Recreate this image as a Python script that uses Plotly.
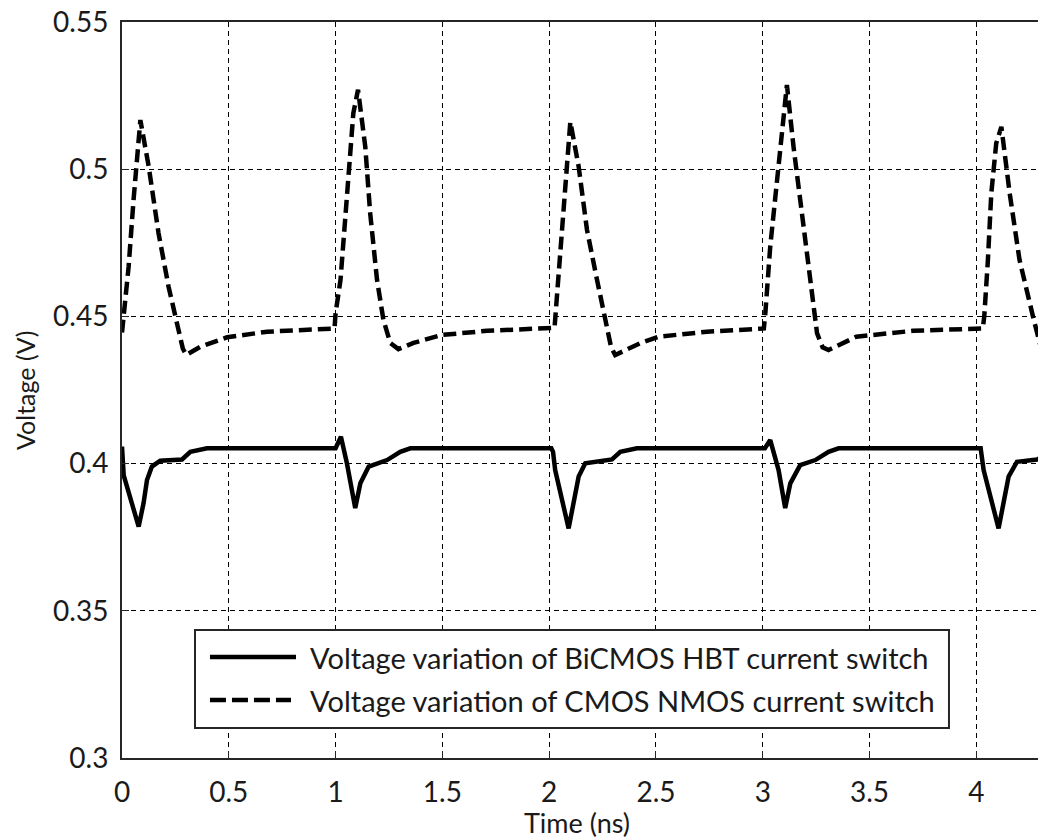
import plotly.graph_objects as go

# series names (legend text)
series_names = [
    'Voltage variation of BiCMOS HBT current switch',
    'Voltage variation of CMOS NMOS current switch',
]

# BiCMOS HBT current switch, time in ns / voltage in V
hbt_t = [0.000, 0.008, 0.078, 0.101, 0.117, 0.140, 0.179, 0.257, 0.281, 0.320, 0.398, 1.000,
         1.025, 1.053, 1.092, 1.116, 1.155, 1.241, 1.303, 1.350, 2.010,
         2.018, 2.028, 2.091, 2.114, 2.138, 2.169, 2.271, 2.294, 2.333, 2.411, 3.010,
         3.035, 3.074, 3.105, 3.129, 3.175, 3.246, 3.308, 3.355, 4.020,
         4.034, 4.104, 4.127, 4.151, 4.190, 4.284, 4.326]
hbt_v = [0.4058, 0.3960, 0.3786, 0.3866, 0.3944, 0.3990, 0.4010, 0.4012, 0.4014, 0.4040, 0.4052, 0.4052,
         0.4091, 0.4001, 0.3849, 0.3933, 0.3990, 0.4012, 0.4040, 0.4052, 0.4052,
         0.4040, 0.3978, 0.3780, 0.3866, 0.3956, 0.4001, 0.4012, 0.4014, 0.4040, 0.4052, 0.4052,
         0.4080, 0.3978, 0.3849, 0.3933, 0.3995, 0.4012, 0.4040, 0.4052, 0.4052,
         0.3978, 0.3780, 0.3866, 0.3956, 0.4006, 0.4014, 0.4028]

# CMOS NMOS current switch
nmos_t = [0.000, 0.031, 0.054, 0.070, 0.086, 0.125, 0.171, 0.218, 0.265, 0.285, 0.301, 0.367, 0.492, 0.679, 0.995,
          1.000, 1.023, 1.046, 1.061, 1.083, 1.105, 1.139, 1.162, 1.194, 1.224, 1.256, 1.294, 1.365, 1.498, 1.709, 2.025,
          2.030, 2.052, 2.075, 2.099, 2.138, 2.177, 2.224, 2.263, 2.290, 2.309, 2.427, 2.512, 2.739, 3.005,
          3.012, 3.035, 3.058, 3.082, 3.113, 3.144, 3.191, 3.222, 3.254, 3.280, 3.308, 3.438, 3.516, 3.703, 4.030,
          4.037, 4.054, 4.070, 4.093, 4.117, 4.156, 4.202, 4.265, 4.300, 4.326]
nmos_v = [0.4445, 0.4669, 0.4895, 0.5042, 0.5167, 0.5009, 0.4783, 0.4601, 0.4443, 0.4390, 0.4369, 0.4397, 0.4429, 0.4448, 0.4459,
          0.4511, 0.4624, 0.4851, 0.5021, 0.5190, 0.5270, 0.5076, 0.4850, 0.4624, 0.4488, 0.4410, 0.4389, 0.4410, 0.4437, 0.4451, 0.4461,
          0.4511, 0.4738, 0.4963, 0.5161, 0.5009, 0.4794, 0.4624, 0.4488, 0.4395, 0.4369, 0.4409, 0.4431, 0.4448, 0.4459,
          0.4511, 0.4738, 0.4908, 0.5076, 0.5286, 0.5076, 0.4794, 0.4624, 0.4443, 0.4395, 0.4386, 0.4431, 0.4437, 0.4451, 0.4459,
          0.4500, 0.4692, 0.4919, 0.5088, 0.5144, 0.4918, 0.4692, 0.4500, 0.4400, 0.4362]

# tick labels
x_ticks = [0, 0.5, 1, 1.5, 2, 2.5, 3, 3.5, 4]
x_ticktext = ['0', '0.5', '1', '1.5', '2', '2.5', '3', '3.5', '4']
y_ticks = [0.3, 0.35, 0.4, 0.45, 0.5, 0.55]
y_ticktext = ['0.3', '0.35', '0.4', '0.45', '0.5', '0.55']

FONT = 'Lato'
INK = '#1a1a1a'
DASH = '13px,6px'

fig = go.Figure()
fig.add_trace(go.Scatter(x=hbt_t, y=hbt_v, mode='lines', name=series_names[0], showlegend=False,
                         line=dict(color='black', width=4.5)))
fig.add_trace(go.Scatter(x=nmos_t, y=nmos_v, mode='lines', name=series_names[1], showlegend=False,
                         line=dict(color='black', width=4.5, dash=DASH)))

axis_common = dict(
    showgrid=True, gridcolor='black', gridwidth=1, griddash='5px,4px',
    showline=True, linecolor='#262626', linewidth=2,
    ticks='inside', ticklen=7, tickcolor='#262626',
    tickfont=dict(family=FONT, size=28, color=INK),
    zeroline=False, automargin=False, ticklabeloverflow='allow',
)
fig.update_xaxes(range=[0, 4.326], tickmode='array', tickvals=x_ticks, ticktext=x_ticktext,
                 mirror=True, ticklabelstandoff=8, **axis_common)
fig.update_yaxes(range=[0.3, 0.55], tickmode='array', tickvals=y_ticks, ticktext=y_ticktext,
                 ticklabelstandoff=6, **axis_common)

# hand-drawn legend box (long line samples, as in the original)
fig.add_shape(type='rect', xref='paper', yref='paper', x0=0.0790, x1=0.8950, y0=0.0408, y1=0.1739,
              line=dict(color='#262626', width=2), fillcolor='white', layer='above')
fig.add_shape(type='line', xref='paper', yref='paper', x0=0.0952, x1=0.1883, y0=0.1372, y1=0.1372,
              line=dict(color='black', width=4.5), layer='above')
fig.add_shape(type='line', xref='paper', yref='paper', x0=0.0952, x1=0.1829, y0=0.0788, y1=0.0788,
              line=dict(color='black', width=4.5, dash='16px,6px'), layer='above')
for name, ypos in zip(series_names, [0.1372, 0.0788]):
    fig.add_annotation(text=name, xref='paper', yref='paper', x=0.2013, y=ypos,
                       xanchor='left', yanchor='middle', showarrow=False,
                       font=dict(family=FONT, size=29, color=INK))

# axis titles
fig.add_annotation(text='Time (ns)', xref='paper', yref='paper', x=0.4924, y=-0.087,
                   xanchor='center', yanchor='middle', showarrow=False,
                   font=dict(family=FONT, size=27, color=INK))
fig.add_annotation(text='Voltage (V)', xref='paper', yref='paper', x=-0.1050, y=0.5,
                   xanchor='center', yanchor='middle', textangle=-90, showarrow=False,
                   font=dict(family=FONT, size=25, color=INK))

# the page body adds an 8px margin, so the figure is 8px smaller and margins shifted
fig.update_layout(
    width=1038, height=831,
    margin=dict(l=114, r=0, t=14, b=81),
    plot_bgcolor='white', paper_bgcolor='white',
    showlegend=False,
)

fig.write_html('out.html')
